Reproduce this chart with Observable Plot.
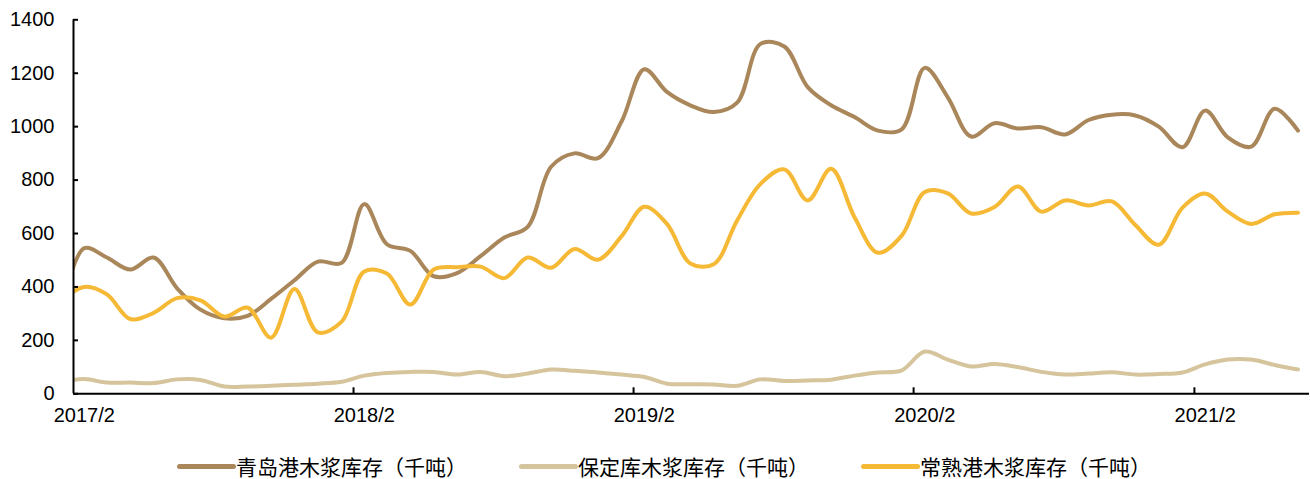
<!DOCTYPE html>
<html>
<head>
<meta charset="utf-8">
<script src="https://cdn.jsdelivr.net/npm/d3@7"></script>
<script src="https://cdn.jsdelivr.net/npm/@observablehq/plot@0.6"></script>
<style>
  body { margin: 0; background: #fff; }
  #legend {
    display: flex;
    margin: 24px 0 0 177px;
    gap: 52px;
    font-family: "Noto Sans CJK SC", sans-serif;
    font-size: 21px;
    line-height: 24px;
    color: #000;
  }
  .item { display: flex; align-items: center; white-space: nowrap; }
  .swatch { width: 59px; height: 5px; border-radius: 3px; }
</style>
</head>
<body>
<div id="chart"></div>
<div id="legend"></div>
<script>
// Monthly pulp inventory (thousand tonnes), one value per month
const months = [
  "2017-01","2017-02","2017-03","2017-04","2017-05","2017-06","2017-07","2017-08","2017-09","2017-10","2017-11","2017-12",
  "2018-01","2018-02","2018-03","2018-04","2018-05","2018-06","2018-07","2018-08","2018-09","2018-10","2018-11","2018-12",
  "2019-01","2019-02","2019-03","2019-04","2019-05","2019-06","2019-07","2019-08","2019-09","2019-10","2019-11","2019-12",
  "2020-01","2020-02","2020-03","2020-04","2020-05","2020-06","2020-07","2020-08","2020-09","2020-10","2020-11","2020-12",
  "2021-01","2021-02","2021-03","2021-04","2021-05","2021-06"
];

const qingdao = [
  320, 545, 510, 465, 510, 395, 315, 283, 292, 355, 425, 495,
  490, 710, 560, 535, 440, 452, 515, 585, 625, 850, 900, 882,
  1020, 1215, 1130, 1080, 1055, 1090, 1310, 1300, 1148, 1080, 1036, 985,
  990, 1220, 1110, 963, 1013, 993, 998, 971, 1025, 1045, 1042, 1000,
  923, 1060, 960, 925, 1067, 985
];

const baoding = [
  45, 55, 42, 42, 40, 54, 52, 27, 27, 30, 34, 38,
  45, 68, 78, 82, 82, 72, 82, 66, 76, 91, 86, 80,
  72, 63, 38, 36, 35, 30, 54, 48, 50, 53, 68, 80,
  88, 158, 128, 102, 112, 100, 82, 72, 76, 81, 72, 74,
  80, 110, 128, 128, 108, 91
];

const changshu = [
  350, 400, 372, 280, 303, 358, 350, 289, 322, 210, 392, 230,
  270, 458, 450, 334, 465, 474, 476, 433, 510, 472, 542, 502,
  590, 700, 636, 488, 485, 649, 786, 840, 724, 842, 661, 528,
  592, 755, 750, 675, 699, 776, 682, 724, 705, 720, 632, 558,
  697, 750, 682, 636, 672, 678
];

const seriesNames = ["青岛港木浆库存（千吨）", "保定库木浆库存（千吨）", "常熟港木浆库存（千吨）"];
const seriesColors = ["#AA875A", "#D5C49C", "#F5B935"];
const seriesValues = [qingdao, baoding, changshu];

const xTickLabels = ["2017/2", "2018/2", "2019/2", "2020/2", "2021/2"];
const yTicks = [0, 200, 400, 600, 800, 1000, 1200, 1400];
const xStart = "2017-02", xEnd = "2021-07";

// Each monthly value sits in the middle of its month
const parseMonth = d3.utcParse("%Y-%m");
const midMonth = (start) => new Date((+start + +d3.utcMonth.offset(start, 1)) / 2);

const rows = [];
seriesValues.forEach((vals, s) => {
  months.forEach((m, i) => rows.push({date: midMonth(parseMonth(m)), value: vals[i], name: seriesNames[s]}));
});

const x0 = parseMonth(xStart), x1 = parseMonth(xEnd);
const tickDates = xTickLabels.map(d3.utcParse("%Y/%m"));
const labelDates = tickDates.map(midMonth);

const chart = Plot.plot({
  width: 1310,
  height: 430,
  marginLeft: 73,
  marginRight: 1,
  marginTop: 19.3,
  marginBottom: 36.7,
  style: {fontFamily: "'Liberation Sans', Arial, sans-serif", color: "#000", background: "#fff"},
  x: {type: "utc", domain: [x0, x1], label: null},
  y: {domain: [0, 1400], label: null},
  color: {domain: seriesNames, range: seriesColors},
  marks: [
    Plot.lineY(rows, {
      x: "date", y: "value", z: "name", stroke: "name",
      curve: "catmull-rom", strokeWidth: 4, strokeLinecap: "round", strokeLinejoin: "round", clip: true
    }),
    Plot.ruleY([0], {stroke: "#000", strokeWidth: 2}),
    Plot.ruleX([x0], {stroke: "#000", strokeWidth: 2}),
    Plot.axisY({ticks: yTicks, tickSize: 5, dx: 5, text: null, label: null, stroke: "#000", strokeWidth: 2}),
    Plot.axisY({ticks: yTicks, tickSize: 0, tickPadding: 19, fontSize: 20, tickFormat: (d) => String(d), label: null}),
    Plot.axisX({ticks: tickDates.slice(1), tickSize: 6, dy: -6, text: null, label: null, stroke: "#000", strokeWidth: 2}),
    Plot.axisX({ticks: labelDates, tickSize: 0, tickPadding: 14, fontSize: 20, tickFormat: d3.utcFormat("%Y/%-m"), label: null})
  ]
});
document.getElementById("chart").append(chart);

// Legend below the chart
const legend = document.getElementById("legend");
seriesNames.forEach((name, i) => {
  const item = document.createElement("div");
  item.className = "item";
  const sw = document.createElement("span");
  sw.className = "swatch";
  sw.style.background = seriesColors[i];
  const label = document.createElement("span");
  label.textContent = name;
  item.append(sw, label);
  legend.append(item);
});
</script>
</body>
</html>
